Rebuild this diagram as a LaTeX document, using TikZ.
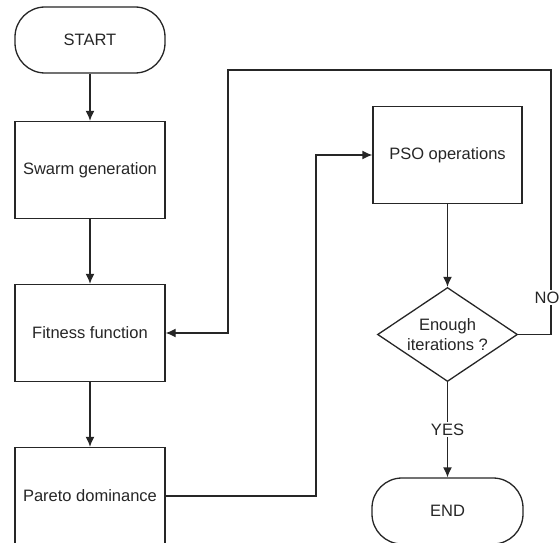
\documentclass[tikz,border=0pt]{standalone}
\usepackage{fontspec}
\setmainfont{Liberation Sans}
\usetikzlibrary{arrows.meta,shapes.geometric}

\begin{document}
\begin{tikzpicture}[x=1pt, y=-1pt, >={Latex[length=10pt,width=9pt]},
  default/.style={draw=black!85, line width=1.3pt, fill=white, text=black!85,
    font=\fontsize{16.5}{20}\selectfont, inner sep=0pt},
  block/.style={default, rectangle, minimum width=150pt, minimum height=97pt},
  term/.style={default, rectangle, rounded corners=30pt, minimum width=150pt, minimum height=66pt},
  decision/.style={default, diamond, aspect=1.5, align=center, minimum width=140pt, minimum height=94pt},
  label/.style={fill=white, text=black!85, inner sep=1.5pt, font=\fontsize{16.5}{20}\selectfont},
  flow/.style={draw=black!85, line width=1.3pt}]
\useasboundingbox (0,0) rectangle (560,543);
\node[term] (start) at (90,40) {START};
\node[block] (swarm) at (90,170) {Swarm generation};
\node[block] (fitness) at (90,333) {Fitness function};
\node[block] (pareto) at (90,496) {Pareto dominance};
\node[block, minimum width=149pt] (pso) at (447.5,155) {PSO operations};
\node[decision] (check) at (447.5,334.5) {Enough\\iterations ?};
\node[term, minimum width=151pt] (end) at (447.5,511) {END};
\coordinate (pa) at (316,496);
\coordinate (na) at (551,70);
\coordinate (nb) at (228,70);
\draw [flow, ->] (start) -- (swarm) ;
\draw [flow, ->] (swarm) -- (fitness) ;
\draw [flow, ->] (fitness) -- (pareto) ;
\draw [flow, ->] (pareto.east) -- (pa) |- (pso.west) ;
\draw [flow, ->] (pso) -- (check) ;
\draw [flow, ->] (check.east) -| node[label, pos=0.57, xshift=-4pt] (nolbl) {NO} (na) -- (nb) |- (fitness.east) ;
\draw [flow, ->] (check.south) -- node[label, pos=0.5] (yeslbl) {YES} (end.north) ;
\end{tikzpicture}
\end{document}
